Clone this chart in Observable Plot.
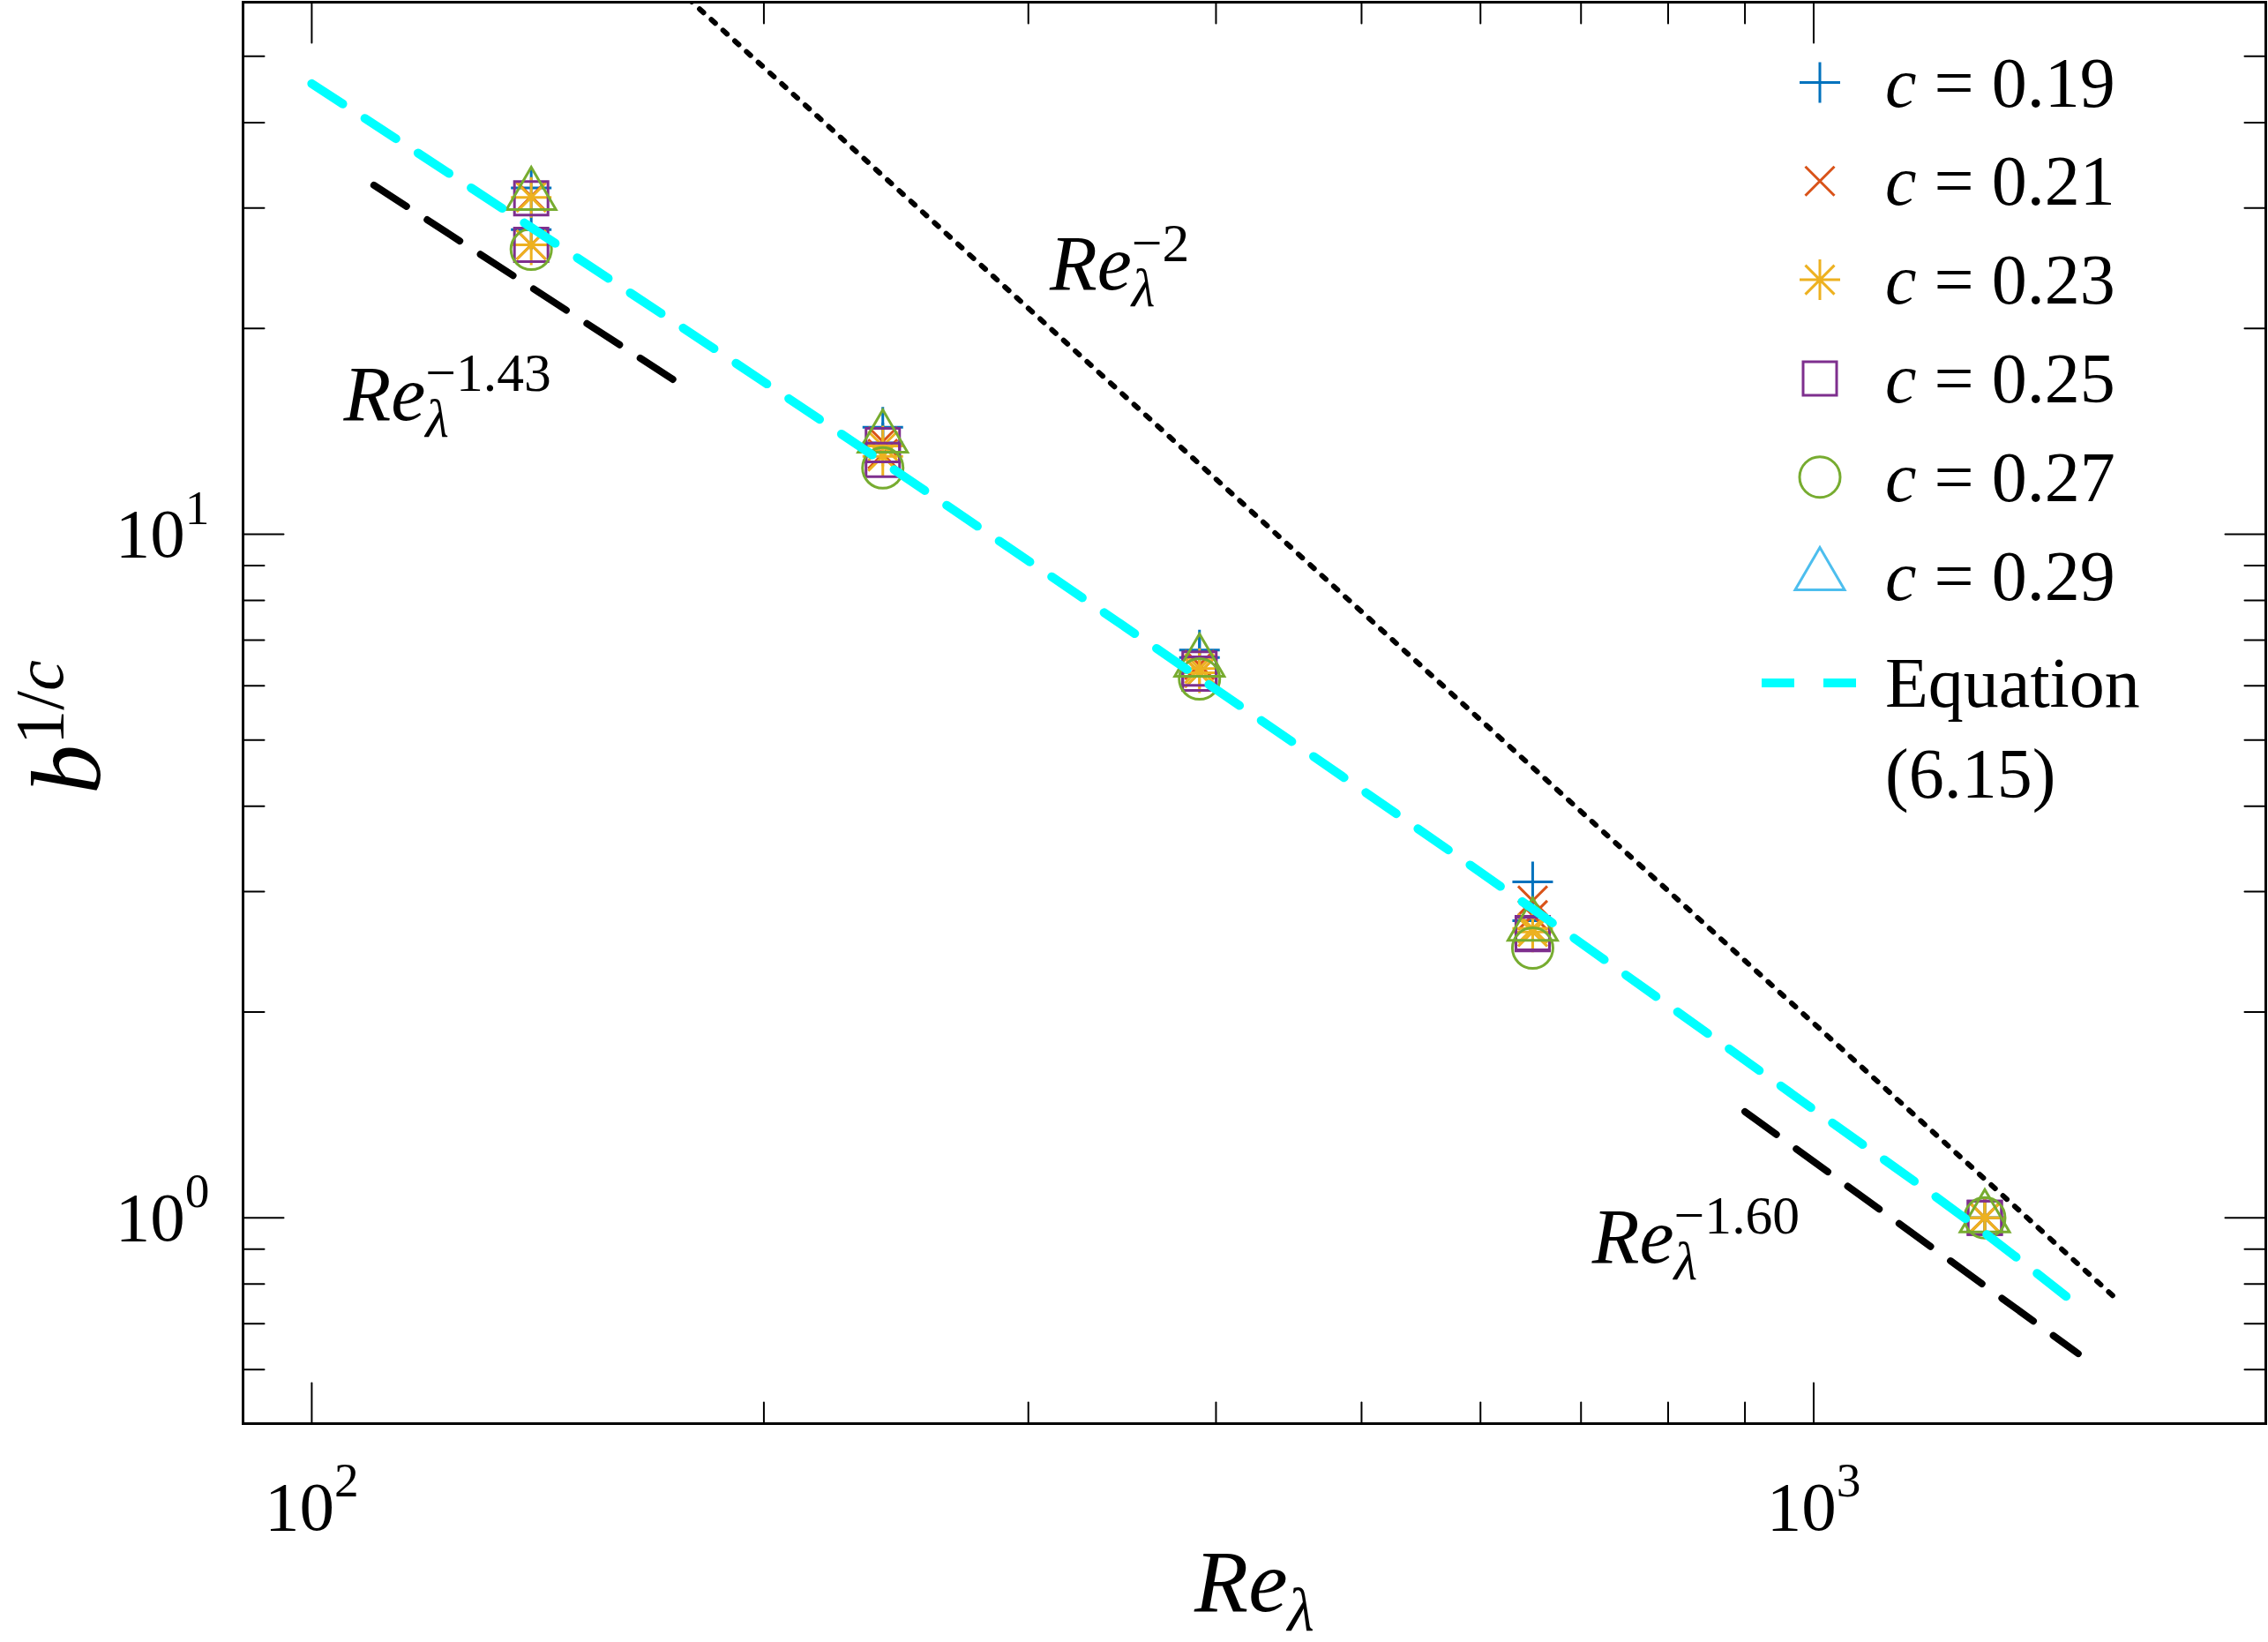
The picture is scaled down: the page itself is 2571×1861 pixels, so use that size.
<!DOCTYPE html>
<html>
<head>
<meta charset="utf-8">
<script src="https://cdn.jsdelivr.net/npm/d3@7"></script>
<script src="https://cdn.jsdelivr.net/npm/@observablehq/plot@0.6"></script>
<style>
  html, body { margin: 0; padding: 0; background: #fff; }
  #chart { position: relative; width: 2571px; height: 1861px; overflow: hidden; }
</style>
</head>
<body>
<div id="chart"></div>
<script>
// ---------------- data ----------------
const reLambda = [140, 240, 390, 650, 1300];
const cValues = [0.19, 0.21, 0.23, 0.25, 0.27, 0.29];

// upper / lower groups of markers at each Re
const c019Upper = [32.1, 14.33, 6.77, 3.10, 1.0];
const c019Lower = [27.9, 13.6, 6.6, 2.72, 1.0];
const c021Upper = [31.2, 13.66, 6.44, 2.91, 1.0];
const c021Lower = [26.5, 13.1, 6.27, 2.77, 1.0];
const c023Upper = [31.1, 13.46, 6.36, 2.65, 1.0];
const c023Lower = [26.5, 13.0, 6.27, 2.62, 1.0];
const c025Upper = [31.0, 13.5, 6.36, 2.61, 1.0];
const c025Lower = [26.5, 12.84, 6.25, 2.60, 1.0];
const c027Lower = [26.1, 12.5, 6.14, 2.48, 1.0];
const c029Upper = [31.3, 13.82, 6.50, 2.67, 1.0];

// Equation (6.15) curve
const eqRe  = [100, 140, 200, 300, 400, 650, 1000, 1300, 1510];
const eqVal = [45.6, 28.1, 16.7, 9.14, 5.93, 2.83, 1.44, 0.95, 0.735];

// reference power-law lines (end points)
const slope2Re = [178, 1600];   const slope2Val = [60.8, 0.752];
const slope143Re = [110, 175];  const slope143Val = [32.4, 16.7];
const slope160Re = [900, 1500]; const slope160Val = [1.43, 0.633];

// annotations
const annotText = ["[Re]_{[λ]}^{−2}", "[Re]_{[λ]}^{−1.43}", "[Re]_{[λ]}^{−1.60}"];
const annotRe   = [310, 105, 712];
const annotVal  = [22.8, 14.7, 0.861];

// ticks
const xMajor = [100, 1000];
const xMinor = [200, 300, 400, 500, 600, 700, 800, 900, 2000];
const yMajor = [1, 10];
const yMinor = [0.5, 0.6, 0.7, 0.8, 0.9, 2, 3, 4, 5, 6, 7, 8, 9, 20, 30, 40, 50, 60];

// ---------------- styles ----------------
const FONT = "'Liberation Serif', 'Times New Roman', Times, serif";
const colors = {
  plus: "#0072BD", times: "#D95319", asterisk: "#EDB120",
  square: "#7E2F8E", circle: "#77AC30", triangle: "#77AC30", triangleLegend: "#4DBEEE"
};
const symbols = {
  plus: {draw(c) { c.moveTo(-23, 0); c.lineTo(23, 0); c.moveTo(0, -23); c.lineTo(0, 23); }},
  times: {draw(c) { const a = 16.5; c.moveTo(-a, -a); c.lineTo(a, a); c.moveTo(-a, a); c.lineTo(a, -a); }},
  asterisk: {draw(c) { const a = 16.5; c.moveTo(-23, 0); c.lineTo(23, 0); c.moveTo(0, -23); c.lineTo(0, 23);
                       c.moveTo(-a, -a); c.lineTo(a, a); c.moveTo(-a, a); c.lineTo(a, -a); }},
  square: {draw(c) { c.moveTo(-19, -19); c.lineTo(19, -19); c.lineTo(19, 19); c.lineTo(-19, 19); c.closePath(); }},
  circle: {draw(c) { c.moveTo(23, 0); c.arc(0, 0, 23, 0, 2 * Math.PI); }},
  triangle: {draw(c) { c.moveTo(0, -32); c.lineTo(28, 16); c.lineTo(-28, 16); c.closePath(); }}
};
const tickShape = {draw(c, l) { c.moveTo(0, 0); c.lineTo(0, -l); }};

// build point table
const seriesArrays = [
  ["plus", c019Upper], ["plus", c019Lower],
  ["times", c021Upper], ["times", c021Lower],
  ["asterisk", c023Upper], ["asterisk", c023Lower],
  ["square", c025Upper], ["square", c025Lower],
  ["circle", c027Lower],
  ["triangle", c029Upper]
];
const points = [];
for (const [kind, arr] of seriesArrays) arr.forEach((v, i) => points.push({re: reLambda[i], val: v, kind}));

const dotMark = kind => Plot.dot(points.filter(p => p.kind === kind), {
  x: "re", y: "val", symbol: symbols[kind], r: 10, fill: "none",
  stroke: colors[kind], strokeWidth: 3
});

const tick = (data, side, len) => Plot.vector(data, {
  ...(side === "bottom" || side === "top" ? {x: d => d} : {y: d => d}),
  frameAnchor: side, anchor: "start", length: len,
  rotate: side === "bottom" ? 0 : side === "top" ? 180 : side === "left" ? 90 : -90,
  shape: tickShape, stroke: "black", strokeWidth: 2
});

const TICK_FS = 79;

const plot = Plot.plot({
  width: 2571, height: 1861,
  marginLeft: 275, marginRight: 3, marginTop: 2, marginBottom: 248,
  style: {fontFamily: FONT, background: "white", color: "black", overflow: "visible"},
  x: {type: "log", domain: [90, 2000], axis: null},
  y: {type: "log", domain: [0.5, 60], axis: null},
  marks: [
    dotMark("plus"), dotMark("times"), dotMark("asterisk"),
    dotMark("square"), dotMark("circle"), dotMark("triangle"),
    Plot.line(slope2Re, {x: slope2Re, y: slope2Val, stroke: "black", strokeWidth: 6,
      strokeDasharray: "6,12", clip: true}),
    Plot.line(slope143Re, {x: slope143Re, y: slope143Val, stroke: "black", strokeWidth: 8,
      strokeDasharray: "44,28"}),
    Plot.line(slope160Re, {x: slope160Re, y: slope160Val, stroke: "black", strokeWidth: 8,
      strokeDasharray: "44,28"}),
    Plot.line(eqRe, {x: eqRe, y: eqVal, stroke: "#00FFFF", strokeWidth: 10,
      strokeDasharray: "42,30", curve: "monotone-x"}),
    // annotations
    Plot.text(annotText, {x: annotRe, y: annotVal, text: d => d, fontSize: 88,
      textAnchor: "start", lineAnchor: "bottom"}),
    // ticks
    tick(xMajor, "bottom", 46), tick(xMinor, "bottom", 24),
    tick(xMajor, "top", 46), tick(xMinor, "top", 24),
    tick(yMajor, "left", 46), tick(yMinor, "left", 24),
    tick(yMajor, "right", 46), tick(yMinor, "right", 24),
    // tick labels
    Plot.text(xMajor, {x: d => d, frameAnchor: "bottom", dy: 120, lineAnchor: "bottom",
      textAnchor: "middle", fontSize: TICK_FS, text: d => `10^{${Math.round(Math.log10(d))}}`}),
    Plot.text(yMajor, {y: d => d, frameAnchor: "left", dx: -38, dy: 26, lineAnchor: "bottom",
      textAnchor: "end", fontSize: TICK_FS, text: d => `10^{${Math.round(Math.log10(d))}}`}),
    // axis labels
    Plot.text(["[Re]_{[λ]}"], {frameAnchor: "bottom", dy: 212, lineAnchor: "bottom",
      textAnchor: "middle", fontSize: 100, text: d => d}),
    Plot.text(["[b]^{1/[c]}"], {frameAnchor: "left", dx: -163, dy: 16, rotate: -90,
      lineAnchor: "bottom", textAnchor: "middle", fontSize: 112, text: d => d}),
    Plot.frame({stroke: "black", strokeWidth: 3})
  ]
});

document.getElementById("chart").appendChild(plot);

// ---------------- rich text (sub/superscripts, italics) ----------------
function runs(s) {
  return s.split(/(\[[^\]]*\])/).filter(t => t.length)
    .map(t => t[0] === "[" ? {t: t.slice(1, -1), it: true} : {t, it: false});
}
function rich(el) {
  const raw = el.textContent;
  if (!/[\[_^]/.test(raw)) return;
  const m = raw.match(/^(.*?)(?:_\{(.*?)\})?(?:\^\{(.*?)\})?$/);
  if (!m) return;
  const fs = parseFloat(getComputedStyle(el).fontSize) || 80;
  const sel = d3.select(el);
  sel.text(null);
  const isTick = fs === TICK_FS;
  const scale = 0.7, drop = 0.22 * fs, raise = (isTick ? 0.48 : 0.37) * fs;
  const put = (s, size, dy, dx) => {
    const spans = [];
    runs(s).forEach((r, k) => {
      const t = sel.append("tspan").text(r.t)
        .attr("font-style", r.it ? "italic" : "normal").attr("font-size", size);
      if (k === 0) { if (dy) t.attr("dy", dy); if (dx) t.attr("dx", dx); }
      spans.push(t.node());
    });
    return spans;
  };
  put(m[1], fs, 0, 0);
  let subW = 0, cur = 0;
  if (m[2] !== undefined) {
    const spans = put(m[2], fs * scale, drop, 0);
    subW = spans.reduce((a, n) => a + n.getComputedTextLength(), 0);
    cur = drop;
  }
  if (m[3] !== undefined) {
    put(m[3], fs * scale, -raise - cur, subW ? -subW : 0);
  }
}
d3.select(plot).selectAll("text").each(function() { rich(this); });

// ---------------- legend ----------------
const svg = d3.select(plot);
const lg = svg.append("g").attr("font-family", FONT).attr("font-size", 80)
  .attr("text-anchor", "start");
const legendKinds = ["plus", "times", "asterisk", "square", "circle", "triangle"];
const symPath = s => { const p = d3.path(); s.draw(p, 0); return p.toString(); };
cValues.forEach((c, i) => {
  const cy = 93.5 + i * 111.8;
  const kind = legendKinds[i];
  lg.append("path").attr("d", symPath(symbols[kind]))
    .attr("transform", `translate(2063,${cy})`)
    .attr("fill", "none").attr("stroke", kind === "triangle" ? colors.triangleLegend : colors[kind])
    .attr("stroke-width", 3);
  const t = lg.append("text").attr("x", 2137).attr("y", cy + 27);
  t.append("tspan").attr("font-style", "italic").text("c");
  t.append("tspan").text(" = " + c.toFixed(2));
});
lg.append("line").attr("x1", 1997).attr("x2", 2104).attr("y1", 774).attr("y2", 774)
  .attr("stroke", "#00FFFF").attr("stroke-width", 10).attr("stroke-dasharray", "37,33");
lg.append("text").attr("x", 2137).attr("y", 774 + 27).text("Equation");
lg.append("text").attr("x", 2137).attr("y", 877 + 27).text("(6.15)");
</script>
</body>
</html>
